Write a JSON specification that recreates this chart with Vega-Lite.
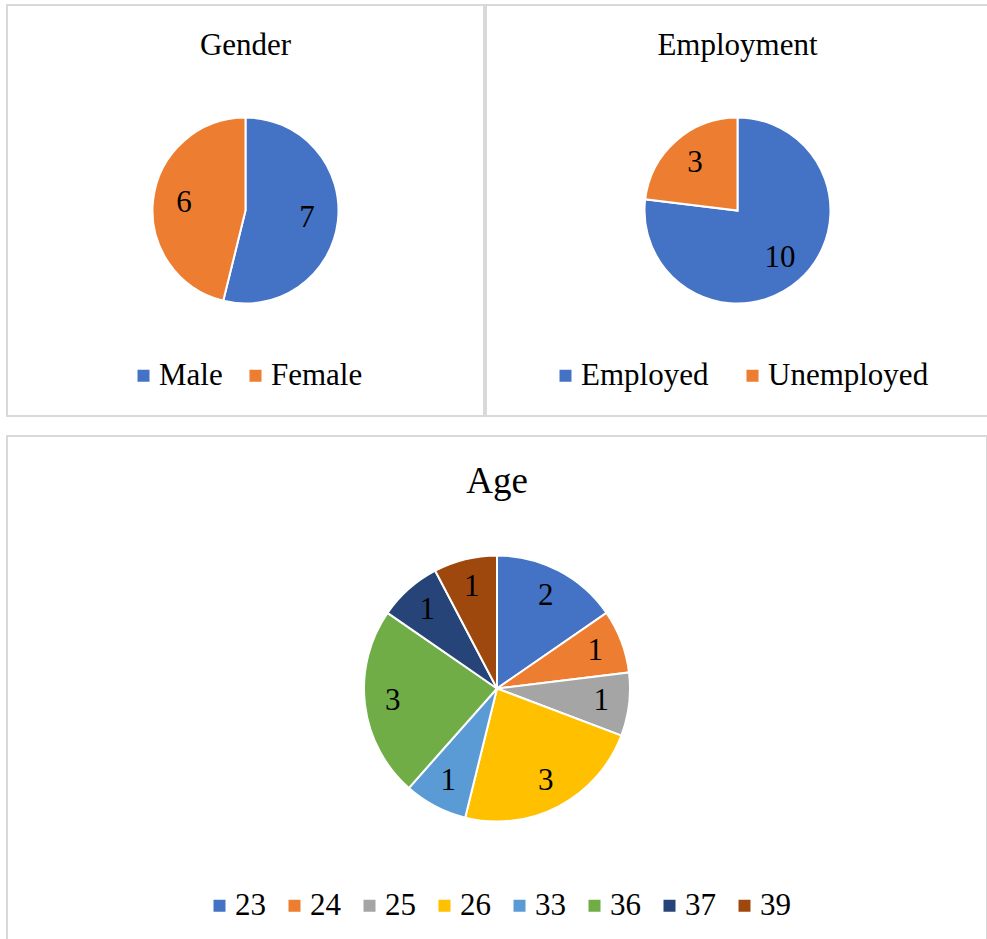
{
  "$schema": "https://vega.github.io/schema/vega-lite/v6.json",
  "padding": {"left": 6, "top": 4, "right": 0, "bottom": 0},
  "background": "white",
  "config": {
    "view": {"stroke": "#D9D9D9", "strokeWidth": 2},
    "font": "Liberation Serif",
    "title": {"fontSize": 31, "fontWeight": "normal", "color": "black", "frame": "group", "anchor": "middle", "offset": -57, "font": "Liberation Serif"},
    "legend": {"symbolType": "square", "symbolSize": 144, "symbolStrokeWidth": 0, "labelFontSize": 31, "labelFont": "Liberation Serif", "labelColor": "black", "labelOffset": 0, "padding": 0, "orient": "none", "direction": "horizontal", "title": null, "labelLimit": 400}
  },
  "spacing": 18,
  "resolve": {"scale": {"color": "independent", "theta": "independent"}, "legend": {"color": "independent"}},
  "vconcat": [
    {
      "spacing": 0,
      "resolve": {"scale": {"color": "independent", "theta": "independent"}, "legend": {"color": "independent"}},
      "hconcat": [
        {
          "width": 477, "height": 411,
          "view": {"stroke": "#D9D9D9", "strokeWidth": 2},
          "title": {"text": "Gender"},
          "data": {"values": [
            {"Gender": "Male", "Count": 7, "Rank": 1},
            {"Gender": "Female", "Count": 6, "Rank": 2}
          ]},
          "encoding": {
            "theta": {"field": "Count", "type": "quantitative", "stack": true},
            "order": {"field": "Rank", "type": "quantitative"},
            "detail": {"field": "Gender", "type": "nominal"}
          },
          "layer": [
            {"mark": {"type": "arc", "radius": 93, "stroke": "white", "strokeWidth": 2},
             "encoding": {"color": {"field": "Gender", "type": "nominal", "scale": {"domain": ["Male", "Female"], "range": ["#4472C4", "#ED7D31"]}, "legend": {"legendX": 121, "legendY": 355, "columnPadding": 17, "title": null}}}},
            {"mark": {"type": "text", "radius": 62, "fontSize": 31, "font": "Liberation Serif"},
             "encoding": {"text": {"field": "Count", "type": "quantitative"}, "color": {"value": "black"}}}
          ]
        },
        {
          "width": 503, "height": 411,
          "view": {"stroke": "#D9D9D9", "strokeWidth": 2},
          "title": {"text": "Employment"},
          "data": {"values": [
            {"Employment": "Employed", "Count": 10, "Rank": 1},
            {"Employment": "Unemployed", "Count": 3, "Rank": 2}
          ]},
          "encoding": {
            "theta": {"field": "Count", "type": "quantitative", "stack": true},
            "order": {"field": "Rank", "type": "quantitative"},
            "detail": {"field": "Employment", "type": "nominal"}
          },
          "layer": [
            {"mark": {"type": "arc", "radius": 93, "stroke": "white", "strokeWidth": 2},
             "encoding": {"color": {"field": "Employment", "type": "nominal", "scale": {"domain": ["Employed", "Unemployed"], "range": ["#4472C4", "#ED7D31"]}, "legend": {"legendX": 64, "legendY": 355, "columnPadding": 28, "title": null}}}},
            {"mark": {"type": "text", "radius": 64, "fontSize": 31, "font": "Liberation Serif"},
             "encoding": {"text": {"field": "Count", "type": "quantitative"}, "color": {"value": "black"}}}
          ]
        }
      ]
    },
    {
      "width": 980, "height": 505,
      "view": {"stroke": "#D9D9D9", "strokeWidth": 2},
      "title": {"text": "Age", "fontSize": 37, "offset": -65},
      "data": {"values": [
        {"Age": "23", "Count": 2, "Rank": 1},
        {"Age": "24", "Count": 1, "Rank": 2},
        {"Age": "25", "Count": 1, "Rank": 3},
        {"Age": "26", "Count": 3, "Rank": 4},
        {"Age": "33", "Count": 1, "Rank": 5},
        {"Age": "36", "Count": 3, "Rank": 6},
        {"Age": "37", "Count": 1, "Rank": 7},
        {"Age": "39", "Count": 1, "Rank": 8}
      ]},
      "encoding": {
        "theta": {"field": "Count", "type": "quantitative", "stack": true},
        "order": {"field": "Rank", "type": "quantitative"},
        "detail": {"field": "Age", "type": "nominal"}
      },
      "layer": [
        {"mark": {"type": "arc", "radius": 133, "stroke": "white", "strokeWidth": 2},
         "encoding": {"color": {"field": "Age", "type": "nominal", "scale": {"domain": ["23", "24", "25", "26", "33", "36", "37", "39"], "range": ["#4472C4", "#ED7D31", "#A5A5A5", "#FFC000", "#5B9BD5", "#70AD47", "#264478", "#9E480E"]}, "legend": {"legendX": 197, "legendY": 454, "columnPadding": 13, "title": null}}}},
        {"mark": {"type": "text", "radius": 105, "fontSize": 31, "font": "Liberation Serif"},
         "encoding": {"text": {"field": "Count", "type": "quantitative"}, "color": {"value": "black"}}}
      ]
    }
  ]
}
